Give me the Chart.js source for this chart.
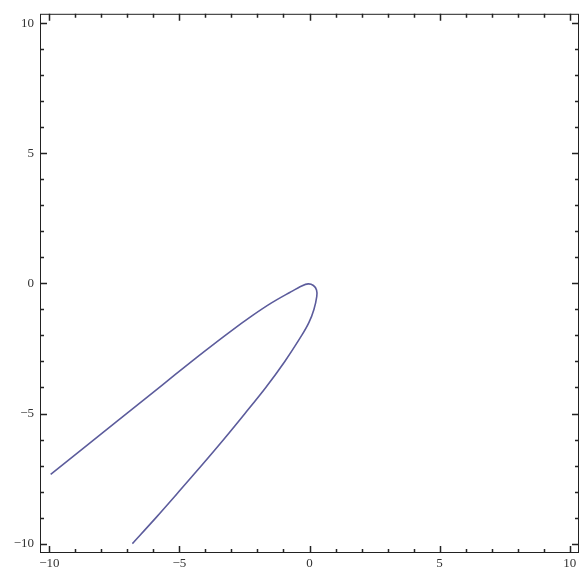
<!DOCTYPE html>
<html>
<head>
<meta charset="utf-8">
<script src="https://cdn.jsdelivr.net/npm/chart.js@4"></script>
<style>
html,body{margin:0;padding:0;background:#fff;}
#wrap{width:587px;height:568px;position:relative;}
</style>
</head>
<body>
<div id="wrap"><canvas id="c" width="587" height="568"></canvas></div>
<script>
// Data
const curveX = [-9.95, -8.7, -7.43, -6.25, -5.12, -4.1, -3.07, -2.2, -1.46, -0.76, -0.3, -0.05, 0.15, 0.27, 0.28, 0.17, -0.02, -0.3, -0.95, -1.68, -2.48, -3.3, -4.15, -5.02, -5.9, -6.81];
const curveY = [-7.34, -6.34, -5.32, -4.38, -3.47, -2.66, -1.87, -1.24, -0.75, -0.35, -0.1, -0.02, -0.08, -0.25, -0.5, -1.0, -1.5, -2.0, -3.0, -4.0, -5.0, -6.0, -7.0, -8.0, -9.0, -10.0];
const tickValues = [-10,-9,-8,-7,-6,-5,-4,-3,-2,-1,0,1,2,3,4,5,6,7,8,9,10];
const labelValues = [-10,-5,0,5,10];
const axisMin = -10.36, axisMax = 10.36;

const points = curveX.map((x,i)=>({x:x, y:curveY[i]}));

function fmt(v){ return v < 0 ? '\u2212' + Math.abs(v) : String(v); }

const frameTicks = {
  id:'frameTicks',
  afterDraw(chart){
    const {ctx, chartArea:a, scales:{x:xs, y:ys}} = chart;
    ctx.save();
    ctx.strokeStyle = '#222';
    ctx.lineWidth = 1;
    ctx.strokeRect(a.left+0.5, a.top+0.5, a.right-a.left-1, a.bottom-a.top-1);
    ctx.lineWidth = 1.5;
    tickValues.forEach(v=>{
      const len = labelValues.includes(v) ? 7 : 4;
      const px = Math.round(xs.getPixelForValue(v))+0.5;
      ctx.beginPath();
      ctx.moveTo(px, a.bottom); ctx.lineTo(px, a.bottom-len);
      ctx.moveTo(px, a.top); ctx.lineTo(px, a.top+len);
      ctx.stroke();
      const py = Math.round(ys.getPixelForValue(v))+0.5;
      ctx.beginPath();
      ctx.moveTo(a.left, py); ctx.lineTo(a.left+len, py);
      ctx.moveTo(a.right, py); ctx.lineTo(a.right-len, py);
      ctx.stroke();
    });
    ctx.restore();
  }
};

const tickFont = {family:'"Liberation Serif", "DejaVu Serif", serif', size:13};

new Chart(document.getElementById('c'), {
  type:'scatter',
  data:{datasets:[{
    data:points,
    showLine:true,
    borderColor:'#5c5c9c',
    borderWidth:1.6,
    pointRadius:0,
    tension:0.3,
    fill:false
  }]},
  options:{
    responsive:false,
    animation:false,
    layout:{padding:{top:13,right:8,left:0,bottom:0}},
    plugins:{legend:{display:false}, tooltip:{enabled:false}},
    scales:{
      x:{
        type:'linear', min:axisMin, max:axisMax,
        grid:{display:false, drawTicks:false},
        border:{display:false},
        afterBuildTicks(s){ s.ticks = labelValues.map(v=>({value:v})); },
        afterFit(s){ s.height = 15; },
        ticks:{padding:3, color:'#333', font:tickFont, maxRotation:0, autoSkip:false,
          callback:(v)=>fmt(v)}
      },
      y:{
        type:'linear', min:axisMin, max:axisMax,
        grid:{display:false, drawTicks:false},
        border:{display:false},
        afterBuildTicks(s){ s.ticks = labelValues.map(v=>({value:v})); },
        afterFit(s){ s.width = 40; },
        ticks:{padding:6, color:'#333', font:tickFont, autoSkip:false,
          callback:(v)=>fmt(v)}
      }
    }
  },
  plugins:[frameTicks]
});
</script>
</body>
</html>
